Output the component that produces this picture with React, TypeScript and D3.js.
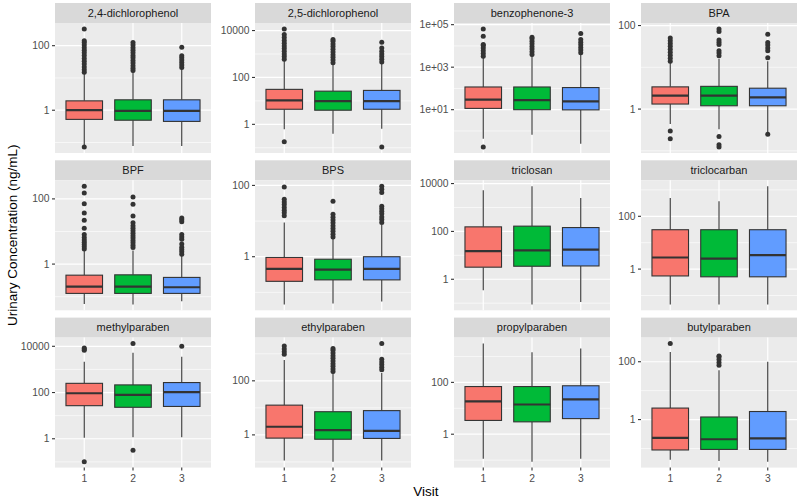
import React from "react";
import * as d3 from "d3";

const chemicals = [
  "2,4-dichlorophenol", "2,5-dichlorophenol", "benzophenone-3", "BPA",
  "BPF", "BPS", "triclosan", "triclocarban",
  "methylparaben", "ethylparaben", "propylparaben", "butylparaben",
];
const visits = ["1", "2", "3"];
const fills = ["#F8766D", "#00BA38", "#619CFF"];

// box statistics per chemical, per visit (ng/mL)
const lowerWhisker = [
  [0.079, 0.078, 0.078], [0.62, 0.4, 0.65], [0.43, 0.66, 0.25], [0.44, 0.33, 0.28],
  [0.06, 0.058, 0.072], [0.046, 0.049, 0.055], [0.35, 0.089, 0.112], [0.046, 0.046, 0.046],
  [1.1, 1.17, 1.17], [0.112, 0.102, 0.112], [0.112, 0.087, 0.112], [0.041, 0.037, 0.035],
];
const q1 = [
  [0.52, 0.49, 0.45], [4.4, 4.0, 4.4], [11.5, 10, 9.8], [1.32, 1.2, 1.2],
  [0.126, 0.126, 0.126], [0.204, 0.224, 0.224], [3.2, 3.5, 3.6], [0.55, 0.51, 0.51],
  [27, 23, 25], [0.76, 0.69, 0.74], [3.4, 3.0, 4.0], [0.089, 0.093, 0.093],
];
const median = [
  [1.0, 0.95, 0.95], [10.5, 9.8, 9.8], [29.5, 28, 24.5], [2.1, 2.1, 1.9],
  [0.204, 0.204, 0.195], [0.457, 0.437, 0.457], [15, 16, 17.4], [2.75, 2.5, 3.4],
  [93, 79, 105], [2.0, 1.5, 1.41], [18.6, 14, 22], [0.234, 0.209, 0.224],
];
const q3 = [
  [1.95, 2.1, 2.1], [31, 26, 28], [117, 117, 110], [3.4, 3.5, 3.16],
  [0.457, 0.468, 0.39], [0.955, 0.85, 1.0], [155, 166, 145], [31, 31, 31],
  [250, 214, 270], [12.6, 7.2, 7.9], [69, 69, 74], [2.5, 1.23, 1.9],
];
const upperWhisker = [
  [14, 16, 20], [560, 400, 440], [3160, 3550, 3980], [12.6, 16, 14],
  [2.5, 2.6, 1.8], [9.1, 3.2, 7.9], [5250, 7760, 2510], [490, 370, 1380],
  [2140, 5250, 3550], [590, 200, 195], [3160, 1445, 2040], [219, 51, 100],
];
const outliers = [
  [[331, 141, 125, 105, 87, 72, 60, 50, 40, 33, 27, 22, 18, 15, 0.072],
   [126, 105, 87, 72, 60, 50, 42, 35, 29, 24, 20, 17],
   [89, 49, 42, 36, 30, 25, 21]],
  [[11750, 6760, 5000, 3800, 2900, 2200, 1700, 1300, 1000, 780, 600, 0.18],
   [4170, 3500, 2700, 2100, 1600, 1220, 940, 720, 550, 420],
   [3160, 1820, 1300, 1000, 780, 600, 460, 0.107]],
  [[63100, 28840, 11750, 10500, 7900, 5900, 4400, 3300, 0.174],
   [25700, 22000, 16800, 12600, 9500, 7100, 5300, 4000],
   [38000, 20000, 15000, 11300, 8500, 6400, 4800]],
  [[50, 43, 37, 32, 27, 23, 19.5, 16.5, 14, 0.3, 0.195],
   [83, 72, 45, 40, 35, 25, 22, 19, 0.22, 0.14, 0.123],
   [62, 39, 34, 29, 25, 17, 0.25]],
  [[245, 151, 71, 37, 22, 12.6, 8.1, 6.5, 5.5, 4.7, 4.0, 3.4, 2.9],
   [115, 68, 30, 18.6, 15, 12.6, 10.5, 8.9, 7.4, 6.3, 5.3, 4.5, 3.8, 3.2],
   [26, 23, 20, 8.1, 6.8, 5.8, 4.1, 3.3, 2.8, 2.4, 2.0]],
  [[91, 41, 34, 29, 24, 20, 17, 14],
   [36, 15.5, 12.8, 10.7, 8.9, 7.4, 6.2, 5.2, 4.3, 3.6],
   [95, 78, 63, 26, 22, 19, 16, 13, 11, 9.1]],
  [[], [], []],
  [[], [], []],
  [[8500, 7600, 6760, 0.102], [13200, 0.32], [10000]],
  [[1950, 1500, 1200, 955],
   [1585, 1340, 1070, 850, 680, 540, 430, 345, 275, 220],
   [2400, 630, 500, 400, 320, 257]],
  [[], [], []],
  [[427], [158, 150, 120, 95, 76], []],
];
const yTicks = [
  [1, 100], [1, 100, 10000], [10, 1000, 100000], [1, 100],
  [1, 100], [1, 100], [1, 100, 10000], [1, 100],
  [1, 100, 10000], [1, 100], [1, 100], [1, 100],
];
const yTickLabels = [
  ["1", "100"], ["1", "100", "10000"], ["1e+01", "1e+03", "1e+05"], ["1", "100"],
  ["1", "100"], ["1", "100"], ["1", "100", "10000"], ["1", "100"],
  ["1", "100", "10000"], ["1", "100"], ["1", "100"], ["1", "100"],
];
const yTitle = "Urinary Concentration (ng/mL)";
const xTitle = "Visit";

// layout
const colLeft = [55, 255, 454, 641];
const panelW = 156;
const rowTop = [3, 160.3, 317.6];
const stripH = 20;
const panelH = 130;
const FONT = "'Liberation Sans', Arial, Helvetica, sans-serif";

function Panel({ i }: { i: number }) {
  const col = i % 4;
  const row = Math.floor(i / 4);
  const x0 = colLeft[col];
  const sTop = rowTop[row];
  const y0 = sTop + stripH;
  const y1 = y0 + panelH;

  const all: number[] = [
    ...lowerWhisker[i], ...upperWhisker[i], ...outliers[i].flat(),
  ];
  const lo = Math.log10(d3.min(all) as number);
  const hi = Math.log10(d3.max(all) as number);
  const pad = 0.05 * (hi - lo);
  const y = d3.scaleLog().domain([Math.pow(10, lo - pad), Math.pow(10, hi + pad)]).range([y1, y0]);
  const x = d3.scalePoint<string>().domain(visits).range([x0, x0 + panelW]).padding(0.6);
  const step = x.step();
  const bw = step * 0.75;

  const ticks = yTicks[i];
  const logT = ticks.map((t) => Math.log10(t));
  const s = logT[1] - logT[0];
  const minors = [logT[0] - s / 2, ...logT.map((l) => l + s / 2)]
    .map((l) => Math.pow(10, l))
    .filter((v) => y(v) >= y0 && y(v) <= y1);

  return (
    <g>
      <rect x={x0} y={sTop} width={panelW} height={stripH} fill="#D9D9D9" />
      <text x={x0 + panelW / 2} y={sTop + stripH / 2} dy="0.35em" textAnchor="middle"
        fontSize={11} fill="#1A1A1A" fontFamily={FONT}>{chemicals[i]}</text>
      <rect x={x0} y={y0} width={panelW} height={panelH} fill="#EBEBEB" />
      {minors.map((v, k) => (
        <line key={"mn" + k} x1={x0} x2={x0 + panelW} y1={y(v)} y2={y(v)} stroke="#FFFFFF" strokeWidth={0.6} />
      ))}
      {ticks.map((t, k) => (
        <line key={"mj" + k} x1={x0} x2={x0 + panelW} y1={y(t)} y2={y(t)} stroke="#FFFFFF" strokeWidth={1.2} />
      ))}
      {visits.map((v) => (
        <line key={"vx" + v} x1={x(v)} x2={x(v)} y1={y0} y2={y1} stroke="#FFFFFF" strokeWidth={1.2} />
      ))}
      {visits.map((v, j) => {
        const cx = x(v) as number;
        return (
          <g key={"b" + j}>
            <line x1={cx} x2={cx} y1={y(upperWhisker[i][j])} y2={y(q3[i][j])} stroke="#333333" strokeWidth={1.1} />
            <line x1={cx} x2={cx} y1={y(q1[i][j])} y2={y(lowerWhisker[i][j])} stroke="#333333" strokeWidth={1.1} />
            <rect x={cx - bw / 2} y={y(q3[i][j])} width={bw} height={y(q1[i][j]) - y(q3[i][j])}
              fill={fills[j]} stroke="#333333" strokeWidth={1.1} />
            <line x1={cx - bw / 2} x2={cx + bw / 2} y1={y(median[i][j])} y2={y(median[i][j])} stroke="#333333" strokeWidth={2.2} />
            {outliers[i][j].map((o, k) => (
              <circle key={k} cx={cx} cy={y(o)} r={2.5} fill="#333333" />
            ))}
          </g>
        );
      })}
      {ticks.map((t, k) => (
        <g key={"yt" + k}>
          <line x1={x0 - 3} x2={x0} y1={y(t)} y2={y(t)} stroke="#333333" strokeWidth={1.1} />
          <text x={x0 - 5.5} y={y(t)} dy="0.35em" textAnchor="end" fontSize={10.3} fill="#4D4D4D" fontFamily={FONT}>
            {yTickLabels[i][k]}
          </text>
        </g>
      ))}
      {row === 2 && visits.map((v) => (
        <g key={"xt" + v}>
          <line x1={x(v)} x2={x(v)} y1={y1} y2={y1 + 3} stroke="#333333" strokeWidth={1.1} />
          <text x={x(v)} y={y1 + 14.5} textAnchor="middle" fontSize={10.3} fill="#4D4D4D" fontFamily={FONT}>{v}</text>
        </g>
      ))}
    </g>
  );
}

export default function App() {
  const midY = (rowTop[0] + rowTop[2] + stripH + panelH) / 2;
  const midX = (colLeft[0] + colLeft[3] + panelW) / 2;
  return (
    <svg width={800} height={500} style={{ position: "absolute", left: 0, top: 0, background: "#FFFFFF" }}>
      <rect x={0} y={0} width={800} height={500} fill="#FFFFFF" />
      {chemicals.map((_, i) => <Panel key={i} i={i} />)}
      <text transform={`translate(17,${midY}) rotate(-90)`} textAnchor="middle" fontSize={13.5}
        fill="#000000" fontFamily={FONT}>{yTitle}</text>
      <text x={midX} y={496} textAnchor="middle" fontSize={13.5} fill="#000000" fontFamily={FONT}>{xTitle}</text>
    </svg>
  );
}
